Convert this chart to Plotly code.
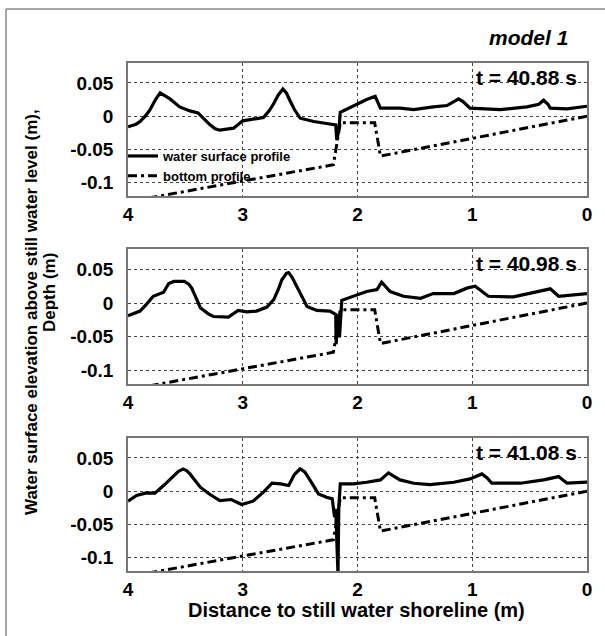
import plotly.graph_objects as go

# ---------------- data ----------------
times = ["t = 40.88 s", "t = 40.98 s", "t = 41.08 s"]

x_ws1 = [4.0, 3.93, 3.895, 3.85, 3.81, 3.76, 3.72, 3.69, 3.634, 3.55, 3.46, 3.39, 3.34, 3.285, 3.24,
         3.2, 3.08, 3.0, 2.82, 2.77, 2.73, 2.69, 2.65, 2.62, 2.59, 2.55, 2.5, 2.38, 2.27, 2.19,
         2.18, 2.16, 2.15, 2.035, 1.92, 1.846, 1.80, 1.63, 1.51, 1.34, 1.22, 1.16, 1.12, 1.08,
         1.02, 0.756, 0.523, 0.42, 0.378, 0.34, 0.32, 0.174, 0.0]
y_ws1 = [-0.016, -0.012, -0.008, 0.000, 0.009, 0.025, 0.035, 0.032, 0.026, 0.014, 0.008, 0.005,
         -0.004, -0.013, -0.019, -0.021, -0.018, -0.007, -0.002, 0.008, 0.019, 0.032, 0.041,
         0.035, 0.024, 0.010, -0.003, -0.008, -0.011, -0.013, -0.036, -0.016, 0.006, 0.016,
         0.025, 0.030, 0.012, 0.012, 0.010, 0.014, 0.016, 0.022, 0.026, 0.022, 0.012, 0.010,
         0.014, 0.018, 0.024, 0.018, 0.012, 0.011, 0.015]

x_ws2 = [4.0, 3.895, 3.84, 3.78, 3.69, 3.645, 3.6, 3.51, 3.47, 3.445, 3.40, 3.37, 3.30, 3.256, 3.125,
         3.04, 2.965, 2.88, 2.79, 2.73, 2.69, 2.66, 2.62, 2.60, 2.57, 2.53, 2.48, 2.44, 2.355,
         2.24, 2.19, 2.186, 2.17, 2.157, 2.137, 2.035, 1.92, 1.83, 1.79, 1.715, 1.6, 1.45, 1.34,
         1.16, 1.047, 0.974, 0.92, 0.86, 0.64, 0.465, 0.32, 0.247, 0.116, 0.0]
y_ws2 = [-0.019, -0.012, -0.002, 0.010, 0.016, 0.029, 0.032, 0.032, 0.028, 0.022, 0.005, -0.007,
         -0.016, -0.020, -0.021, -0.011, -0.013, -0.012, -0.006, 0.005, 0.020, 0.034, 0.044,
         0.045, 0.038, 0.025, 0.008, -0.005, -0.011, -0.012, -0.017, -0.061, -0.017, -0.051,
         0.004, 0.010, 0.017, 0.020, 0.031, 0.017, 0.010, 0.007, 0.014, 0.014, 0.022, 0.025,
         0.018, 0.010, 0.009, 0.016, 0.021, 0.010, 0.012, 0.014]

x_ws3 = [4.0, 3.925, 3.84, 3.765, 3.69, 3.62, 3.56, 3.52, 3.49, 3.46, 3.37, 3.285, 3.2, 3.1, 3.01,
         2.91, 2.82, 2.745, 2.67, 2.6, 2.55, 2.5, 2.46, 2.43, 2.34, 2.27, 2.22, 2.2, 2.19, 2.17,
         2.163, 2.15, 2.035, 1.92, 1.80, 1.73, 1.68, 1.63, 1.51, 1.37, 1.16, 1.02, 0.916, 0.87,
         0.83, 0.58, 0.378, 0.247, 0.21, 0.174, 0.0]
y_ws3 = [-0.015, -0.0065, -0.0025, -0.003, 0.0085, 0.021, 0.030, 0.0335, 0.031, 0.026, 0.006,
         -0.005, -0.014, -0.0125, -0.020, -0.015, -0.0015, 0.012, 0.011, 0.0085, 0.025, 0.0335,
         0.029, 0.021, -0.004, -0.009, -0.0115, -0.039, -0.0265, -0.125, -0.024, 0.011, 0.011,
         0.0135, 0.017, 0.0275, 0.022, 0.017, 0.012, 0.010, 0.0135, 0.0185, 0.026, 0.020,
         0.012, 0.012, 0.017, 0.022, 0.017, 0.012, 0.0135]

x_bottom = [0.0, 1.80, 1.85, 2.15, 2.21, 4.0]
y_bottom = [0.0, -0.060, -0.010, -0.010, -0.073, -0.1285]

ytick_vals = [-0.1, -0.05, 0, 0.05]
ytick_text = ["-0.1", "-0.05", "0", "0.05"]
xtick_vals = [0, 1, 2, 3, 4]
xtick_text = ["0", "1", "2", "3", "4"]

# ---------------- layout helpers ----------------
W, H = 605, 636
L, R, T, B = 128, 18, 63, 65
plot_h = H - T - B
def py(y):  # pixel y -> paper y
    return (H - B - y) / plot_h
def px(x):  # pixel x -> paper x
    return (x - L) / (W - L - R)

panels = [(63, 196), (249, 384), (438, 571)]
ws = [(x_ws1, y_ws1), (x_ws2, y_ws2), (x_ws3, y_ws3)]

FONT = "Arial, Liberation Sans, sans-serif"
fig = go.Figure()

for i in range(3):
    ax = "" if i == 0 else str(i + 1)
    xw, yw = ws[i]
    fig.add_trace(go.Scatter(x=xw, y=yw, mode="lines", name="water surface profile",
                             line=dict(color="black", width=3.2),
                             xaxis="x" + ax, yaxis="y" + ax, showlegend=(i == 0)))
    fig.add_trace(go.Scatter(x=x_bottom, y=y_bottom, mode="lines", name="bottom profile",
                             line=dict(color="black", width=3, dash="9px,4px,3px,4px"),
                             xaxis="x" + ax, yaxis="y" + ax, showlegend=(i == 0)))
    top, bot = panels[i]
    common = dict(showline=True, linecolor="#777", linewidth=1.5, mirror=True,
                  showgrid=True, gridcolor="#444", griddash="dot", gridwidth=1,
                  zeroline=False, ticks="",
                  tickfont=dict(family=FONT, size=19, color="black", weight="bold"))
    fig.layout["xaxis" + ax] = dict(common, range=[4, 0], tickvals=xtick_vals, ticktext=xtick_text,
                                    anchor="y" + ax, domain=[0, 1], ticklabelstandoff=0)
    fig.layout["yaxis" + ax] = dict(common, range=[-0.12, 0.08], tickvals=ytick_vals,
                                    ticktext=ytick_text, anchor="x" + ax,
                                    domain=[py(bot), py(top)], ticklabelstandoff=9)
    fig.add_annotation(text=times[i], xref="x" + ax + " domain", yref="y" + ax + " domain",
                       x=0.982, y=1, xanchor="right", yanchor="top", yshift=-1, showarrow=False,
                       font=dict(family=FONT, size=21, color="black", weight="bold"))

fig.add_annotation(text="<i>model 1</i>", xref="paper", yref="paper", x=px(570), y=py(37),
                   xanchor="right", yanchor="middle", showarrow=False,
                   font=dict(family=FONT, size=21, color="black", weight="bold"))
fig.add_annotation(text="Water surface elevation above still water level (m),", textangle=-90,
                   xref="paper", yref="paper", x=px(31), y=py(312), xanchor="center",
                   yanchor="middle", showarrow=False,
                   font=dict(family=FONT, size=17, color="black", weight="bold"))
fig.add_annotation(text="Depth (m)", textangle=-90,
                   xref="paper", yref="paper", x=px(49), y=py(293), xanchor="center",
                   yanchor="middle", showarrow=False,
                   font=dict(family=FONT, size=17, color="black", weight="bold"))
fig.add_annotation(text="Distance to still water shoreline (m)", xref="paper", yref="paper",
                   x=px(356), y=py(610), xanchor="center", yanchor="middle", showarrow=False,
                   font=dict(family=FONT, size=20, color="black", weight="bold"))

# image frame (top and left edges)
fig.add_shape(type="line", xref="paper", yref="paper", x0=px(6), x1=px(605), y0=py(9), y1=py(9),
              line=dict(color="#888", width=1.5))
fig.add_shape(type="line", xref="paper", yref="paper", x0=px(6), x1=px(6), y0=py(9), y1=py(636),
              line=dict(color="#888", width=1.5))

fig.update_layout(
    width=W, height=H, margin=dict(l=L, r=R, t=T, b=B),
    paper_bgcolor="white", plot_bgcolor="white",
    legend=dict(x=px(123), y=py(141), xanchor="left", yanchor="top", bgcolor="rgba(0,0,0,0)",
                font=dict(family=FONT, size=13, color="black", weight="bold"),
                tracegroupgap=0, itemwidth=30),
)

fig.write_html("out.html", config={"displayModeBar": False},
               post_script="document.body.style.margin='0';document.body.style.overflow='hidden';")
